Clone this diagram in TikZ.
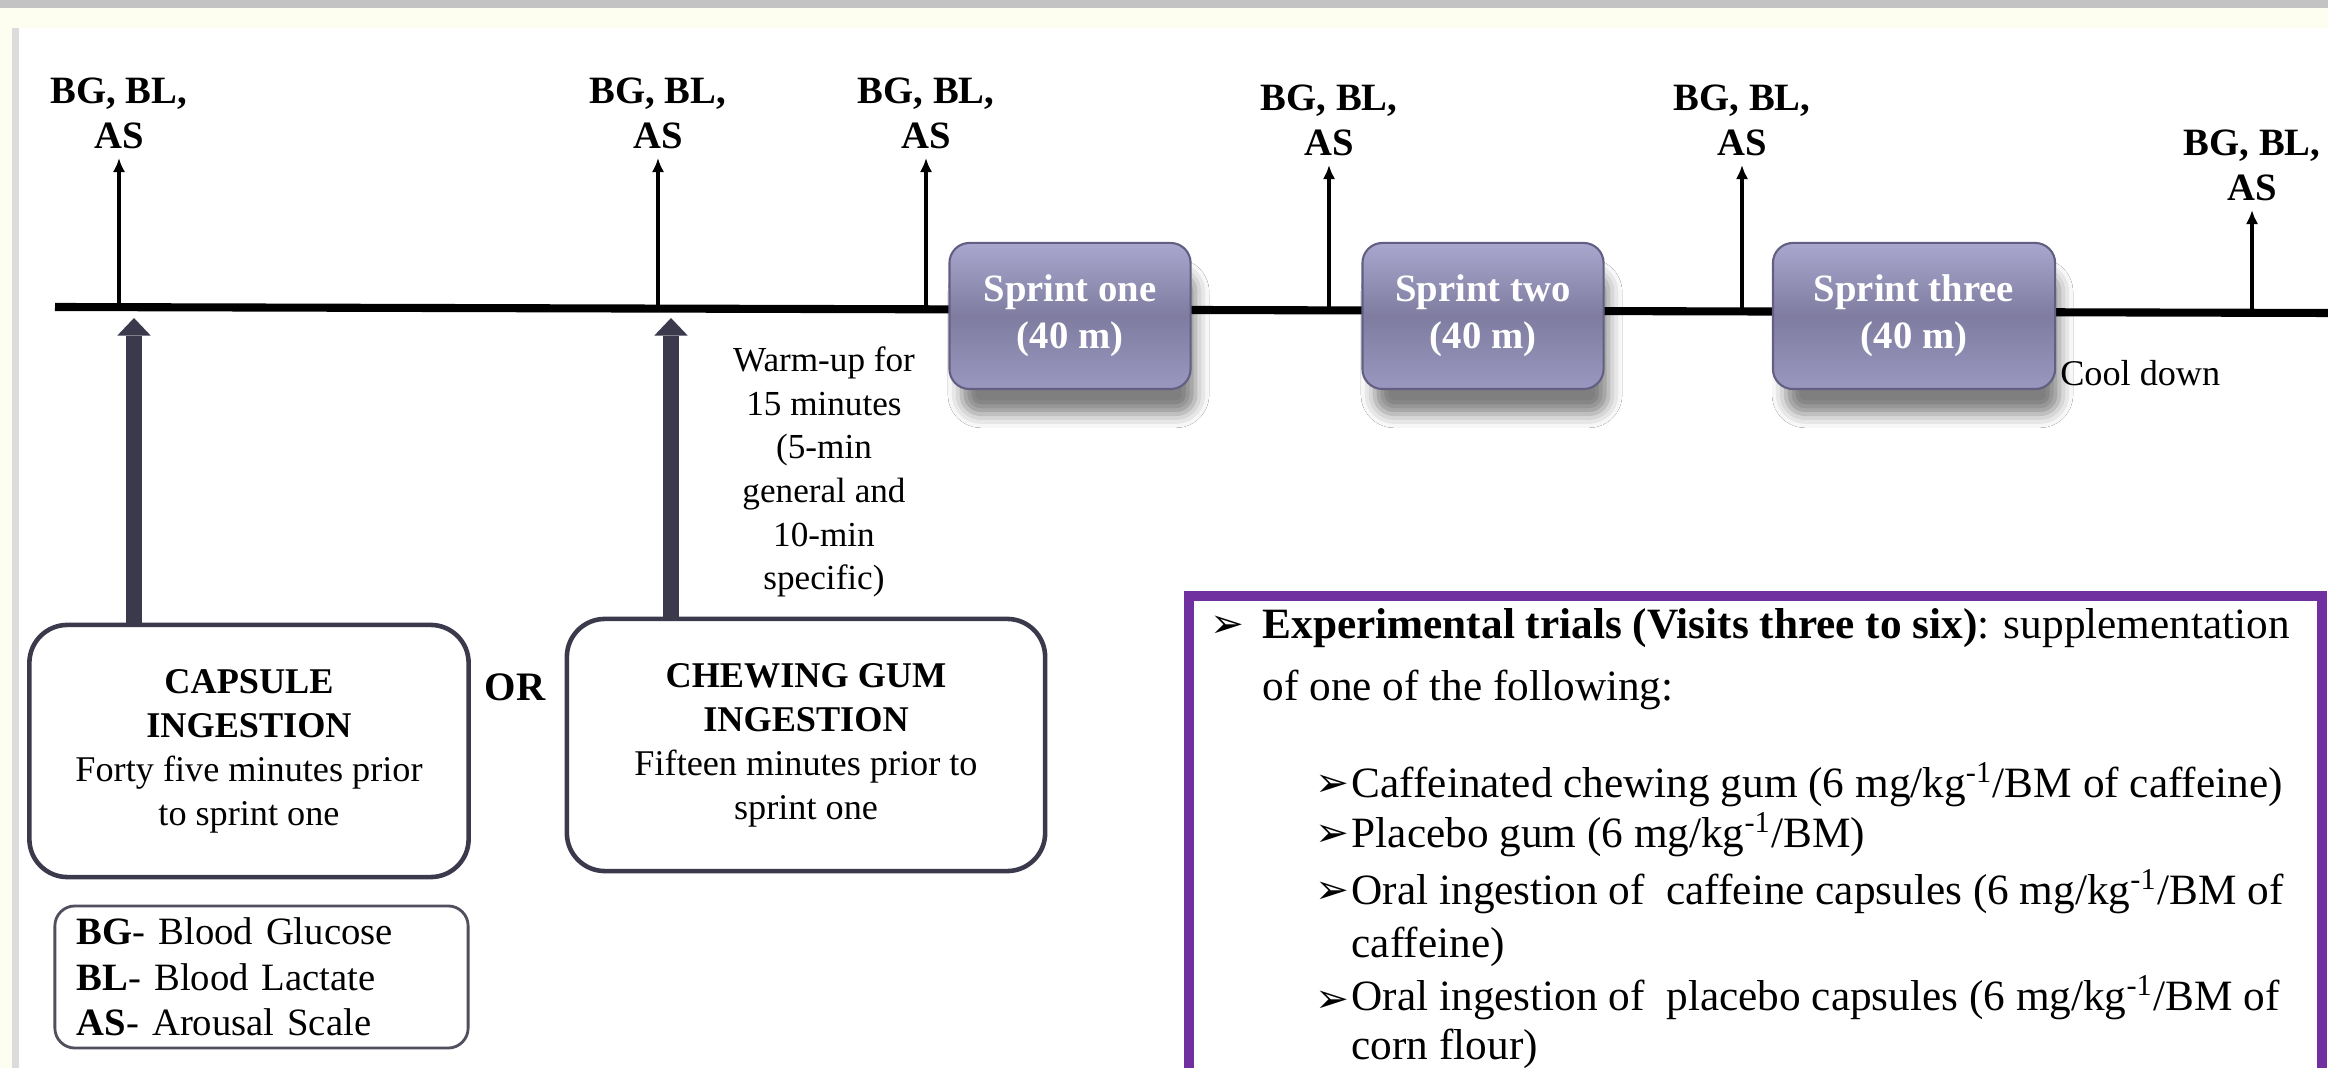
\documentclass[tikz,border=0pt]{standalone}
\usepackage{fontspec}
\setmainfont{Liberation Serif}
\newfontfamily\dingfont{DejaVu Sans}
\usetikzlibrary{arrows.meta,shadows.blur}
\definecolor{barGray}{HTML}{C3C3C3}
\definecolor{cream}{HTML}{FDFDF0}
\definecolor{edgeGray}{HTML}{DCDCDC}
\definecolor{sprintTop}{HTML}{A9A7CE}
\definecolor{sprintMid}{HTML}{7F7CA0}
\definecolor{sprintBot}{HTML}{9A98C0}
\definecolor{sprintEdge}{HTML}{625F82}
\definecolor{boxEdge}{HTML}{3B3A4C}
\definecolor{feedDark}{HTML}{3B3A4D}
\definecolor{keyEdge}{HTML}{4F4F5E}
\definecolor{trialPurple}{HTML}{7030A0}
\begin{document}
\begin{tikzpicture}[x=0.01cm,y=-0.01cm,
    lbl/.style={font=\fontsize{11}{12.7}\selectfont\bfseries,align=center,inner sep=2.5pt,anchor=south},
    meas/.style={-{Latex[length=4pt,width=3.5pt]},line width=1.2pt},
    sprint/.style={rounded corners=0.2cm,draw=sprintEdge,line width=0.6pt,top color=sprintTop,bottom color=sprintBot,middle color=sprintMid,
      minimum height=1.46cm,minimum width=2.41cm,text=white,align=center,font=\fontsize{11}{13.4}\selectfont\bfseries,
      blur shadow={shadow xshift=2.5pt,shadow yshift=-8pt,shadow blur radius=4pt,shadow scale=0.97,shadow opacity=50}},
    intake/.style={draw=boxEdge,fill=white,line width=1.3pt,rounded corners=0.38cm,minimum height=2.52cm,align=center,font=\fontsize{10.3}{12.5}\selectfont},
    feed/.style={draw=feedDark,line width=4.3pt,-{Triangle[width=9.5pt,length=5pt,line width=0pt]}},
    trial/.style={font=\fontsize{12.3}{15}\selectfont,anchor=base west,inner sep=0pt},
    tick/.style={font=\dingfont\fontsize{11.5}{12}\selectfont,anchor=base west,inner sep=0pt}]
    \useasboundingbox (0,0) rectangle (2328,1068);
    % Page
    \fill[white] (0,0) rectangle (2328,1068);
    \fill[barGray] (0,0) rectangle (2328,8);
    \fill[cream] (0,8) rectangle (2328,28);
    \fill[cream] (0,28) rectangle (12,1068);
    \fill[edgeGray] (12,28) rectangle (19,1068);
    % Time line
    \draw[line width=2.3pt] (55,307) -- (2328,313);
    % Sampling points
    \foreach \i/\x/\y in {1/119/158,2/658/158,3/926/158,4/1329/165,5/1742/165,6/2252/210} {
      \coordinate (t\i) at (\x,{307+(\x-55)*0.00264});
      \node[lbl] (l\i) at (\x,\y) {BG, BL,\\AS};
      \draw[meas] (t\i) -- (l\i);
    }
    % Sprints
    \node[sprint] (s1) at (1070,316) {Sprint one\\(40 m)};
    \node[sprint] (s2) at (1483,316) {Sprint two\\(40 m)};
    \node[sprint,minimum width=2.82cm] (s3) at (1914,316) {Sprint three\\(40 m)};
    % Warm-up and cool down
    \node[align=center,font=\fontsize{10}{12.4}\selectfont] (warm) at (824,472)
      {Warm-up for\\15 minutes\\(5-min\\general and\\10-min\\specific)};
    \node[anchor=west,inner sep=1pt,font=\fontsize{10.3}{12}\selectfont] (cool) at (2056,373) {Cool down};
    % Supplement
    \node[intake,minimum width=4.39cm] (cap) at (249,751)
      {\textbf{CAPSULE}\\\textbf{INGESTION}\\Forty five minutes prior\\to sprint one};
    \node[intake,minimum width=4.78cm] (gum) at (806,745)
      {\textbf{CHEWING GUM}\\\textbf{INGESTION}\\Fifteen minutes prior to\\sprint one};
    \node[font=\fontsize{11.5}{13}\selectfont\bfseries] (or) at (515,687) {OR};
    \coordinate (c1) at (134,318);
    \coordinate (c2) at (671,318);
    \draw[feed] (cap.north -| c1) -- (c1);
    \draw[feed] (gum.north -| c2) -- (c2);
    % Key
    \node[draw=keyEdge,line width=0.8pt,rounded corners=0.2cm,text width=3.69cm,inner xsep=0.22cm,minimum height=1.40cm,
      align=left,font=\fontsize{11}{13}\selectfont] (key) at (261.5,977)
      {\textbf{BG}- Blood Glucose\\\textbf{BL}- Blood Lactate\\\textbf{AS}- Arousal Scale};
    % Trials
    \draw[trialPurple,line width=3.1pt] (1189,596) rectangle (2322,1085);
    \node[tick] (b0) at (1210,638) {➢};
    \node[trial] (h1) at (1262,639) {\textbf{Experimental trials (Visits three to six)}: supplementation};
    \node[trial] (h2) at (1262,701) {of one of the following:};
    \foreach \i/\y in {1/797,2/847,3/904,4/1012}
      \node[tick] (b\i) at (1315,\y) {➢};
    \node[trial] (i1) at (1351,798) {Caffeinated chewing gum (6 mg/kg\textsuperscript{-1}/BM of caffeine)};
    \node[trial] (i2) at (1351,848) {Placebo gum (6 mg/kg\textsuperscript{-1}/BM)};
    \node[trial] (i3) at (1351,905) {Oral ingestion of\ \ caffeine capsules (6 mg/kg\textsuperscript{-1}/BM of};
    \node[trial] (i3b) at (1351,958) {caffeine)};
    \node[trial] (i4) at (1351,1011) {Oral ingestion of\ \ placebo capsules (6 mg/kg\textsuperscript{-1}/BM of};
    \node[trial] (i4b) at (1351,1059) {corn flour)};
\end{tikzpicture}
\end{document}
